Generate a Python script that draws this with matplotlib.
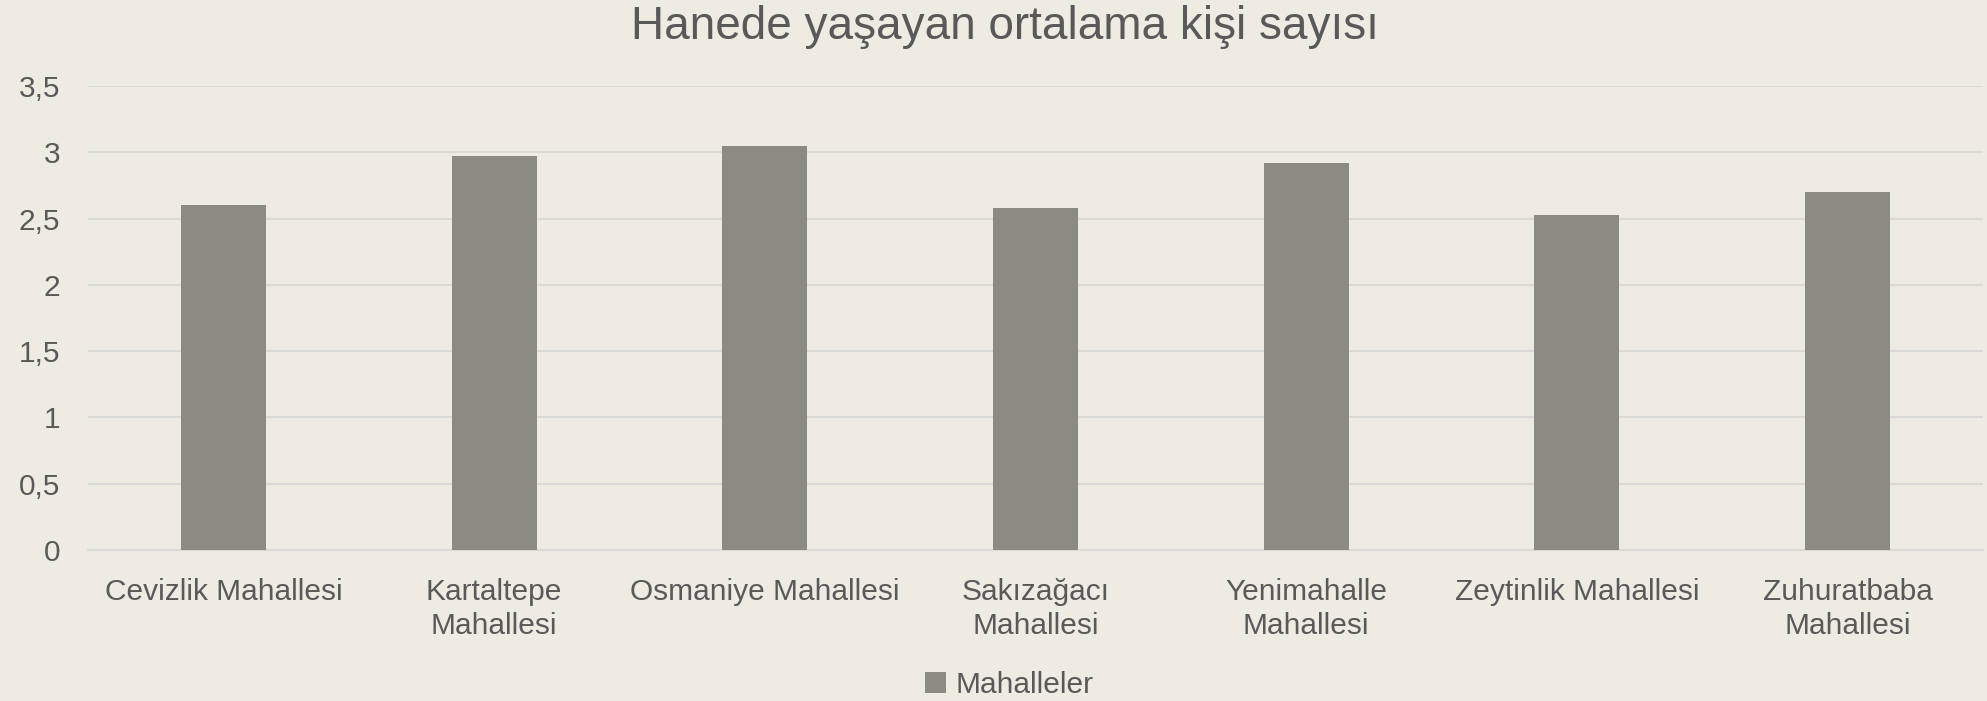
import numpy as np
import matplotlib.pyplot as plt

# ----------------------------------------------------------------------
# data
# ----------------------------------------------------------------------
mahalleler = ["Cevizlik Mahallesi", "Kartaltepe\nMahallesi", "Osmaniye Mahallesi",
              "Sakızağacı\nMahallesi", "Yenimahalle\nMahallesi", "Zeytinlik Mahallesi",
              "Zuhuratbaba\nMahallesi"]
kisi_sayisi = [2.6, 2.97, 3.05, 2.58, 2.92, 2.525, 2.7]
y_ticks = [0, 0.5, 1, 1.5, 2, 2.5, 3, 3.5]
y_tick_labels = ["0", "0,5", "1", "1,5", "2", "2,5", "3", "3,5"]

bg = "#EEEBE3"
bar_col = "#8B8B84"
txt_col = "#595959"
grid_col = "#D9D9D6"

plt.rcParams['font.family'] = ['Liberation Sans', 'DejaVu Sans']

fig = plt.figure(figsize=(19.87, 7.01), dpi=100, facecolor=bg)
ax = fig.add_axes([0.0443, 0.2154, 0.9537, 0.6619])
ax.set_facecolor(bg)

x = np.arange(len(mahalleler))
ax.bar(x, kisi_sayisi, width=0.314, color=bar_col, label="Mahalleler", zorder=3)

ax.set_xlim(-0.5, len(mahalleler) - 0.5)
ax.set_ylim(0, 3.5)
ax.set_yticks(y_ticks)
ax.set_yticklabels(y_tick_labels)
ax.set_xticks(x)
ax.set_xticklabels(mahalleler, linespacing=1.3)

ax.grid(axis="y", color=grid_col, linewidth=1.5, zorder=0)
for s in ["top", "right", "left"]:
    ax.spines[s].set_visible(False)
ax.spines["bottom"].set_color(grid_col)
ax.spines["bottom"].set_linewidth(1.5)

ax.tick_params(axis="both", length=0, labelsize=21.5, colors=txt_col)
ax.tick_params(axis="y", pad=20)
ax.tick_params(axis="x", pad=20)

fig.text(0.506, 0.962, "Hanede yaşayan ortalama kişi sayısı", ha="center", va="center",
         fontsize=33, color=txt_col)

fig.legend(loc="center", bbox_to_anchor=(0.508, 0.023), frameon=False, fontsize=21.5,
           handlelength=0.7, handleheight=0.7, handletextpad=0.3, labelcolor=txt_col)

fig.savefig("out.png", dpi=100, facecolor=bg)
